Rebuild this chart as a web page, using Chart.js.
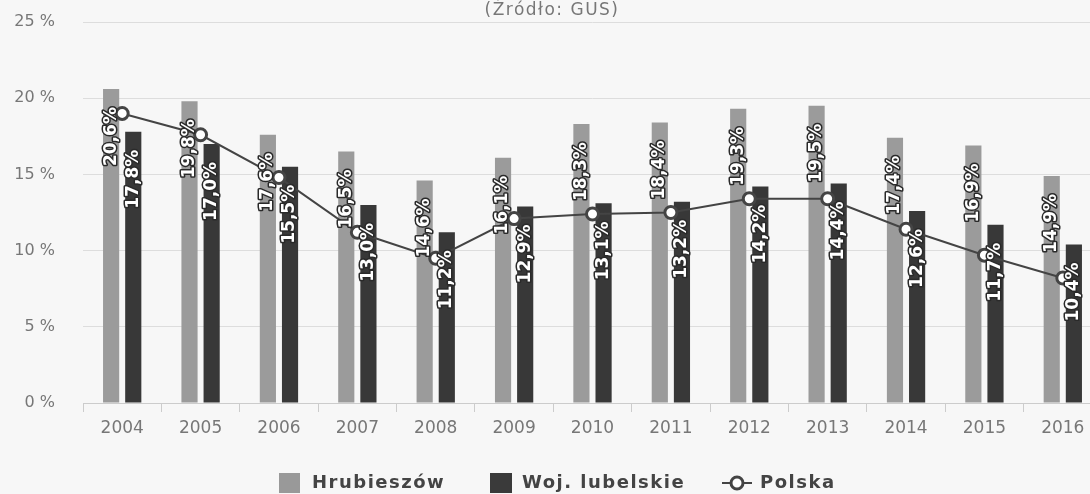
<!DOCTYPE html>
<html lang="pl">
<head>
<meta charset="utf-8">
<script src="https://cdn.jsdelivr.net/npm/chart.js@4/dist/chart.umd.min.js"></script>
<style>
  html, body { margin: 0; padding: 0; overflow: hidden; background: #f7f7f7; }
  #wrap { width: 1111px; height: 494px; position: relative; }
</style>
</head>
<body>
<div id="wrap"><canvas id="chart"></canvas></div>
<script>
const years = ["2004", "2005", "2006", "2007", "2008", "2009", "2010", "2011", "2012", "2013", "2014", "2015", "2016"];
const hrubieszow = [20.6, 19.8, 17.6, 16.5, 14.6, 16.1, 18.3, 18.4, 19.3, 19.5, 17.4, 16.9, 14.9];
const lubelskie = [17.8, 17.0, 15.5, 13.0, 11.2, 12.9, 13.1, 13.2, 14.2, 14.4, 12.6, 11.7, 10.4];
const polska = [19.0, 17.6, 14.8, 11.2, 9.5, 12.1, 12.4, 12.5, 13.4, 13.4, 11.4, 9.7, 8.2];
const yTicks = [0, 5, 10, 15, 20, 25];

const FONT = "'DejaVu Sans', sans-serif";

// napisy na słupkach, obrócone o 90 stopni
const barLabels = {
  id: "barLabels",
  afterDatasetsDraw(chart) {
    const ctx = chart.ctx;
    ctx.save();
    ctx.font = "bold 17px " + FONT;
    ctx.textAlign = "right";
    ctx.textBaseline = "middle";
    ctx.lineJoin = "round";
    [0, 1].forEach((di) => {
      const meta = chart.getDatasetMeta(di);
      const values = chart.data.datasets[di].data;
      meta.data.forEach((bar, i) => {
        const text = values[i].toFixed(1).replace(".", ",") + "%";
        ctx.save();
        ctx.translate(bar.x, bar.y + 18);
        ctx.rotate(-Math.PI / 2);
        ctx.lineWidth = 3;
        ctx.strokeStyle = "#2a2a2a";
        ctx.strokeText(text, 0, 0);
        ctx.fillStyle = "#ffffff";
        ctx.fillText(text, 0, 0);
        ctx.restore();
      });
    });
    ctx.restore();
  },
};

// tytuł i legenda
const titleLegend = {
  id: "titleLegend",
  afterDraw(chart) {
    const ctx = chart.ctx;
    ctx.save();
    ctx.font = "17px " + FONT;
    ctx.letterSpacing = "1.5px";
    ctx.fillStyle = "#777";
    ctx.textAlign = "center";
    ctx.textBaseline = "alphabetic";
    ctx.fillText("(Źródło: GUS)", 552, 15);

    const ly = 483;
    ctx.font = "bold 18px " + FONT;
    ctx.letterSpacing = "1.5px";
    ctx.textAlign = "left";
    ctx.textBaseline = "middle";
    ctx.fillStyle = "#999";
    ctx.fillRect(279, ly - 10, 21, 20);
    ctx.fillStyle = "#444";
    ctx.fillText("Hrubieszów", 312, ly);
    ctx.fillStyle = "#3a3a3a";
    ctx.fillRect(490, ly - 10, 22, 20);
    ctx.fillStyle = "#444";
    ctx.fillText("Woj. lubelskie", 522, ly);
    ctx.strokeStyle = "#444";
    ctx.lineWidth = 2;
    ctx.beginPath();
    ctx.moveTo(722, ly);
    ctx.lineTo(752, ly);
    ctx.stroke();
    ctx.beginPath();
    ctx.arc(737, ly, 6, 0, Math.PI * 2);
    ctx.fillStyle = "#fff";
    ctx.fill();
    ctx.lineWidth = 3;
    ctx.stroke();
    ctx.fillStyle = "#444";
    ctx.fillText("Polska", 760, ly);
    ctx.restore();
  },
};

new Chart(document.getElementById("chart"), {
  type: "bar",
  data: {
    labels: years,
    datasets: [
      {
        label: "Hrubieszów",
        data: hrubieszow,
        backgroundColor: "#9b9b9b",
        barPercentage: 0.73,
        categoryPercentage: 0.565,
        order: 1,
      },
      {
        label: "Woj. lubelskie",
        data: lubelskie,
        backgroundColor: "#383838",
        barPercentage: 0.73,
        categoryPercentage: 0.565,
        order: 1,
      },
      {
        type: "line",
        label: "Polska",
        data: polska,
        borderColor: "#444",
        borderWidth: 2,
        pointRadius: 6,
        pointBackgroundColor: "#fff",
        pointBorderColor: "#444",
        pointBorderWidth: 3,
        tension: 0,
        order: 0,
      },
    ],
  },
  options: {
    responsive: true,
    maintainAspectRatio: false,
    animation: false,
    layout: { padding: { top: 22, right: 0, bottom: 0, left: 0 } },
    plugins: {
      legend: { display: false },
      title: { display: false },
      tooltip: { enabled: false },
    },
    scales: {
      x: {
        grid: {
          offset: true,
          drawOnChartArea: false,
          drawTicks: true,
          tickLength: 9,
          color: "#cccccc",
        },
        border: { display: true, color: "#cccccc" },
        ticks: {
          color: "#777",
          font: { family: FONT, size: 17 },
          padding: 6,
          maxRotation: 0,
        },
        afterFit(scale) {
          scale.height = 91;
        },
      },
      y: {
        min: 0,
        max: 25,
        afterBuildTicks(scale) {
          scale.ticks = yTicks.map((v) => ({ value: v }));
        },
        grid: {
          color: "#dddddd",
          drawTicks: true,
          tickLength: 28,
          tickColor: "rgba(0,0,0,0)",
        },
        border: { display: false },
        ticks: {
          color: "#777",
          font: { family: FONT, size: 16 },
          padding: 0,
          callback: (v) => v + " %",
        },
        afterFit(scale) {
          scale.width = 83;
        },
      },
    },
  },
  plugins: [barLabels, titleLegend],
});
</script>
</body>
</html>
